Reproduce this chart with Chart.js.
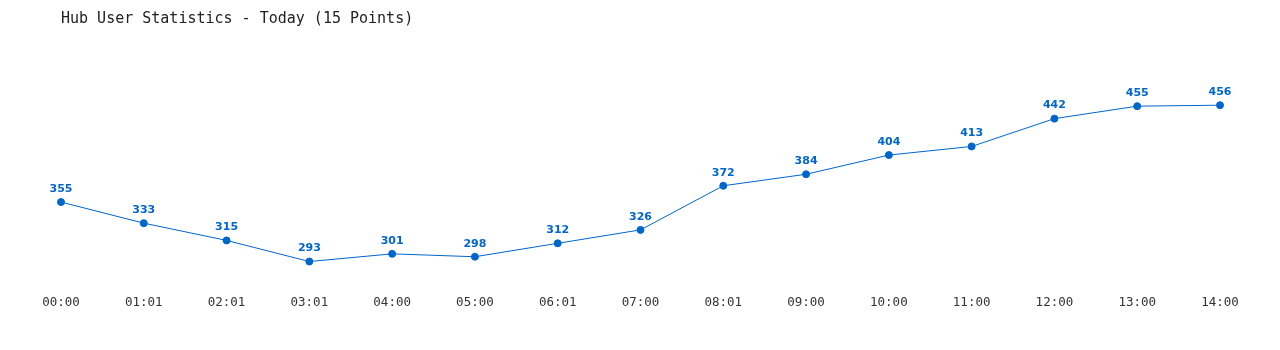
<!DOCTYPE html>
<html>
<head>
<meta charset="utf-8">
<script src="https://cdn.jsdelivr.net/npm/chart.js@4/dist/chart.umd.min.js"></script>
<style>
  body { margin: 0; background: #fff; }
  #wrap { width: 1280px; height: 350px; }
</style>
</head>
<body>
<div id="wrap"><canvas id="chart"></canvas></div>
<script>
const labels = ["00:00", "01:01", "02:01", "03:01", "04:00", "05:00", "06:01", "07:00",
  "08:01", "09:00", "10:00", "11:00", "12:00", "13:00", "14:00"];
const users = [355, 333, 315, 293, 301, 298, 312, 326, 372, 384, 404, 413, 442, 455, 456];
const titleText = "Hub User Statistics - Today (15 Points)";
const blue = "#0066cc";

// draws the number above each point (no datalabels plugin offline)
const valueLabels = {
  id: "valueLabels",
  afterDatasetsDraw(chart) {
    const ctx = chart.ctx;
    const meta = chart.getDatasetMeta(0);
    ctx.save();
    ctx.font = "bold 11px 'DejaVu Sans', sans-serif";
    ctx.fillStyle = blue;
    ctx.textAlign = "center";
    ctx.textBaseline = "middle";
    meta.data.forEach((pt, i) => {
      ctx.fillText(chart.data.datasets[0].data[i], pt.x, pt.y - 13);
    });
    ctx.restore();
  },
};

const ctx = document.getElementById("chart");
new Chart(ctx, {
  type: "line",
  data: {
    labels: labels,
    datasets: [
      {
        label: "Users",
        data: users,
        borderColor: blue,
        backgroundColor: blue,
        borderWidth: 1,
        pointRadius: 3.5,
        pointHoverRadius: 3.5,
        tension: 0,
      },
    ],
  },
  options: {
    responsive: true,
    maintainAspectRatio: false,
    animation: false,
    layout: { padding: { left: 61, right: 60, top: 0, bottom: 19 } },
    plugins: {
      legend: { display: false },
      tooltip: { enabled: false },
      title: {
        display: true,
        text: titleText,
        align: "start",
        color: "#222",
        font: { family: "'DejaVu Sans Mono', monospace", size: 15, weight: "normal" },
        padding: { top: 10, bottom: 35 },
      },
    },
    scales: {
      x: {
        offset: false,
        grid: { display: false, drawTicks: false },
        border: { display: false },
        ticks: {
          color: "#333",
          padding: 21,
          maxRotation: 0,
          autoSkip: false,
          font: { family: "'DejaVu Sans Mono', monospace", size: 12.5 },
        },
      },
      y: {
        display: false,
        min: 280,
        max: 500,
      },
    },
  },
  plugins: [valueLabels],
});
</script>
</body>
</html>
